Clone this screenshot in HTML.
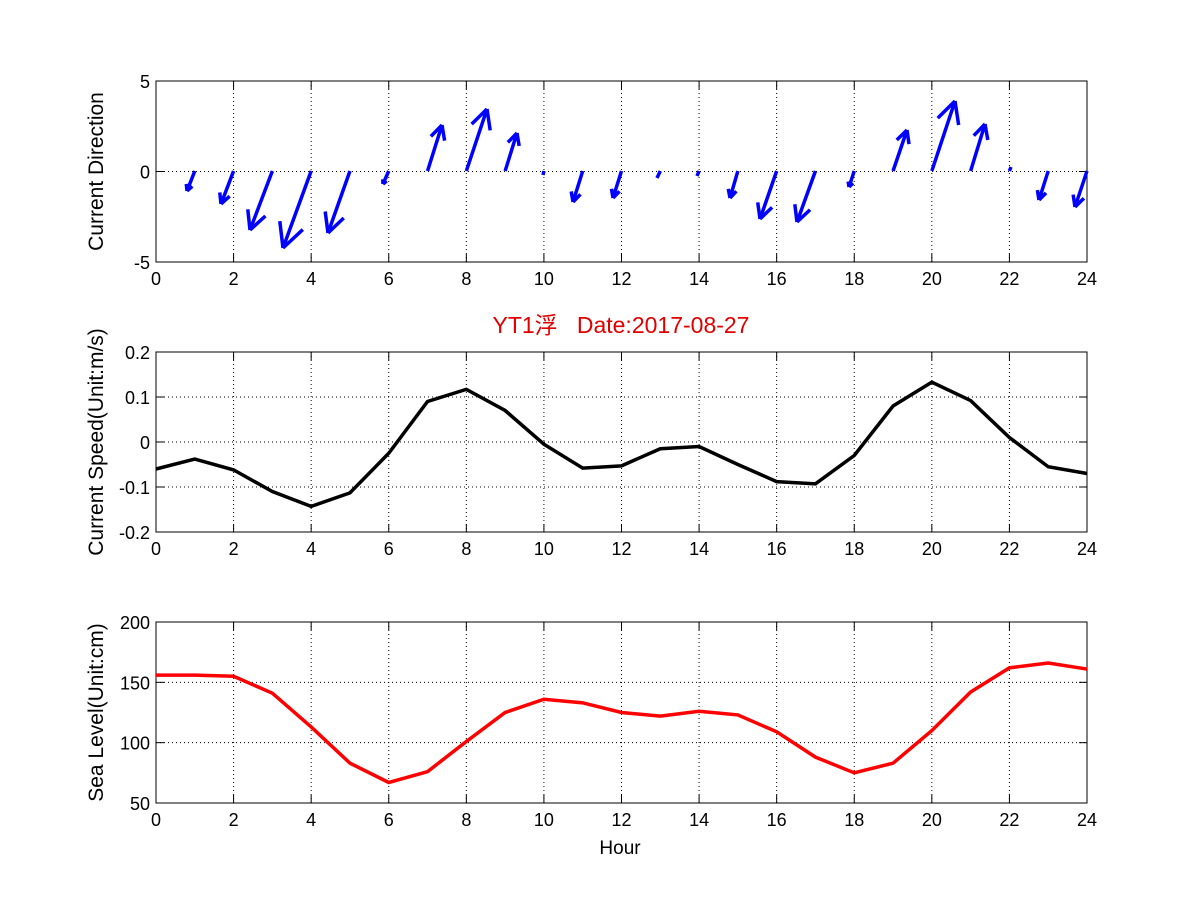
<!DOCTYPE html><html><head><meta charset="utf-8"><style>body{margin:0;background:#fff}svg{display:block}text{font-family:"Liberation Sans","Noto Sans CJK SC",sans-serif;font-size:18px}</style></head><body>
<svg id="s" width="1201" height="901" xmlns="http://www.w3.org/2000/svg"></svg>
<script>
const s=document.getElementById('s');let h='';
const L=156,R=1087,W=R-L;const X=t=>L+W*t/24;
function axes(top,bot,ymin,ymax,yt,ylabel){
 const Y=v=>bot-(v-ymin)/(ymax-ymin)*(bot-top);
 h+=`<rect x="${L}" y="${top}" width="${W}" height="${bot-top}" fill="#fff" stroke="#000"/>`;
 for(let t=0;t<=24;t+=2){const x=X(t);if(t>0&&t<24)h+=`<line x1="${x}" y1="${top}" x2="${x}" y2="${bot}" stroke="#000" stroke-dasharray="1,3"/>`;
 h+=`<line x1="${x}" y1="${bot}" x2="${x}" y2="${bot-8}" stroke="#000"/><line x1="${x}" y1="${top}" x2="${x}" y2="${top+8}" stroke="#000"/><text x="${x}" y="${bot+23}" text-anchor="middle">${t}</text>`;}
 yt.forEach((v,i)=>{const y=Y(v);if(i>0&&i<yt.length-1)h+=`<line x1="${L}" y1="${y}" x2="${R}" y2="${y}" stroke="#000" stroke-dasharray="1,3"/>`;
 h+=`<line x1="${L}" y1="${y}" x2="${L+8}" y2="${y}" stroke="#000"/><line x1="${R}" y1="${y}" x2="${R-8}" y2="${y}" stroke="#000"/><text x="${L-6}" y="${y+7}" text-anchor="end">${v}</text>`;});
 h+=`<text transform="translate(${L-53},${(top+bot)/2}) rotate(-90)" text-anchor="middle" style="font-size:21px">${ylabel}</text>`;
 return Y;}
axes(81,262,-5,5,[-5,0,5],'Current Direction');
const ends=[[187,191],[221,204],[250,230],[283,248],[328,233],[383,184],[442,125],[487,109],[517,133],[543,175],[573,202],[613,198],[657,178],[697,176],[730,198],[760,219],[797,222],[849,187],[907,130],[955,101],[985,124],[1011,167],[1039,200],[1075,207]];
ends.forEach((e,i)=>{const x0=X(i+1),y0=171,dx=e[0]-x0,dy=e[1]-y0,len=Math.hypot(dx,dy);
 h+=`<line x1="${x0}" y1="${y0}" x2="${e[0]}" y2="${e[1]}" stroke="#0000ff" stroke-width="3.5"/>`;
 if(len>8){const a=Math.atan2(dy,dx),hl=len*0.33;[0.47,-0.47].forEach(d=>{h+=`<line x1="${e[0]}" y1="${e[1]}" x2="${e[0]-hl*Math.cos(a+d)}" y2="${e[1]-hl*Math.sin(a+d)}" stroke="#0000ff" stroke-width="3.5"/>`;});}});
h+=`<text x="621" y="333" text-anchor="middle" fill="#e00000" style="font-size:23px">YT1浮&#160;&#160;&#160;Date:2017-08-27</text>`;
let Y2=axes(352,532,-0.2,0.2,[-0.2,-0.1,0,0.1,0.2],'Current Speed(Unit:m/s)');
const sp=[-0.06,-0.038,-0.062,-0.11,-0.143,-0.113,-0.025,0.09,0.117,0.07,-0.005,-0.058,-0.053,-0.015,-0.01,-0.05,-0.088,-0.093,-0.03,0.08,0.133,0.092,0.01,-0.055,-0.07];
h+=`<polyline fill="none" stroke="#000" stroke-width="3.5" points="${sp.map((v,i)=>X(i)+','+Y2(v)).join(' ')}"/>`;
let Y3=axes(622,803,50,200,[50,100,150,200],'Sea Level(Unit:cm)');
const sl=[156,156,155,141,113,83,67,76,101,125,136,133,125,122,126,123,109,88,75,83,110,142,162,166,161];
h+=`<polyline fill="none" stroke="#f00" stroke-width="3.5" points="${sl.map((v,i)=>X(i)+','+Y3(v)).join(' ')}"/>`;
h+=`<text x="620" y="854" text-anchor="middle" style="font-size:19px">Hour</text>`;
s.innerHTML=h;
</script></body></html>
